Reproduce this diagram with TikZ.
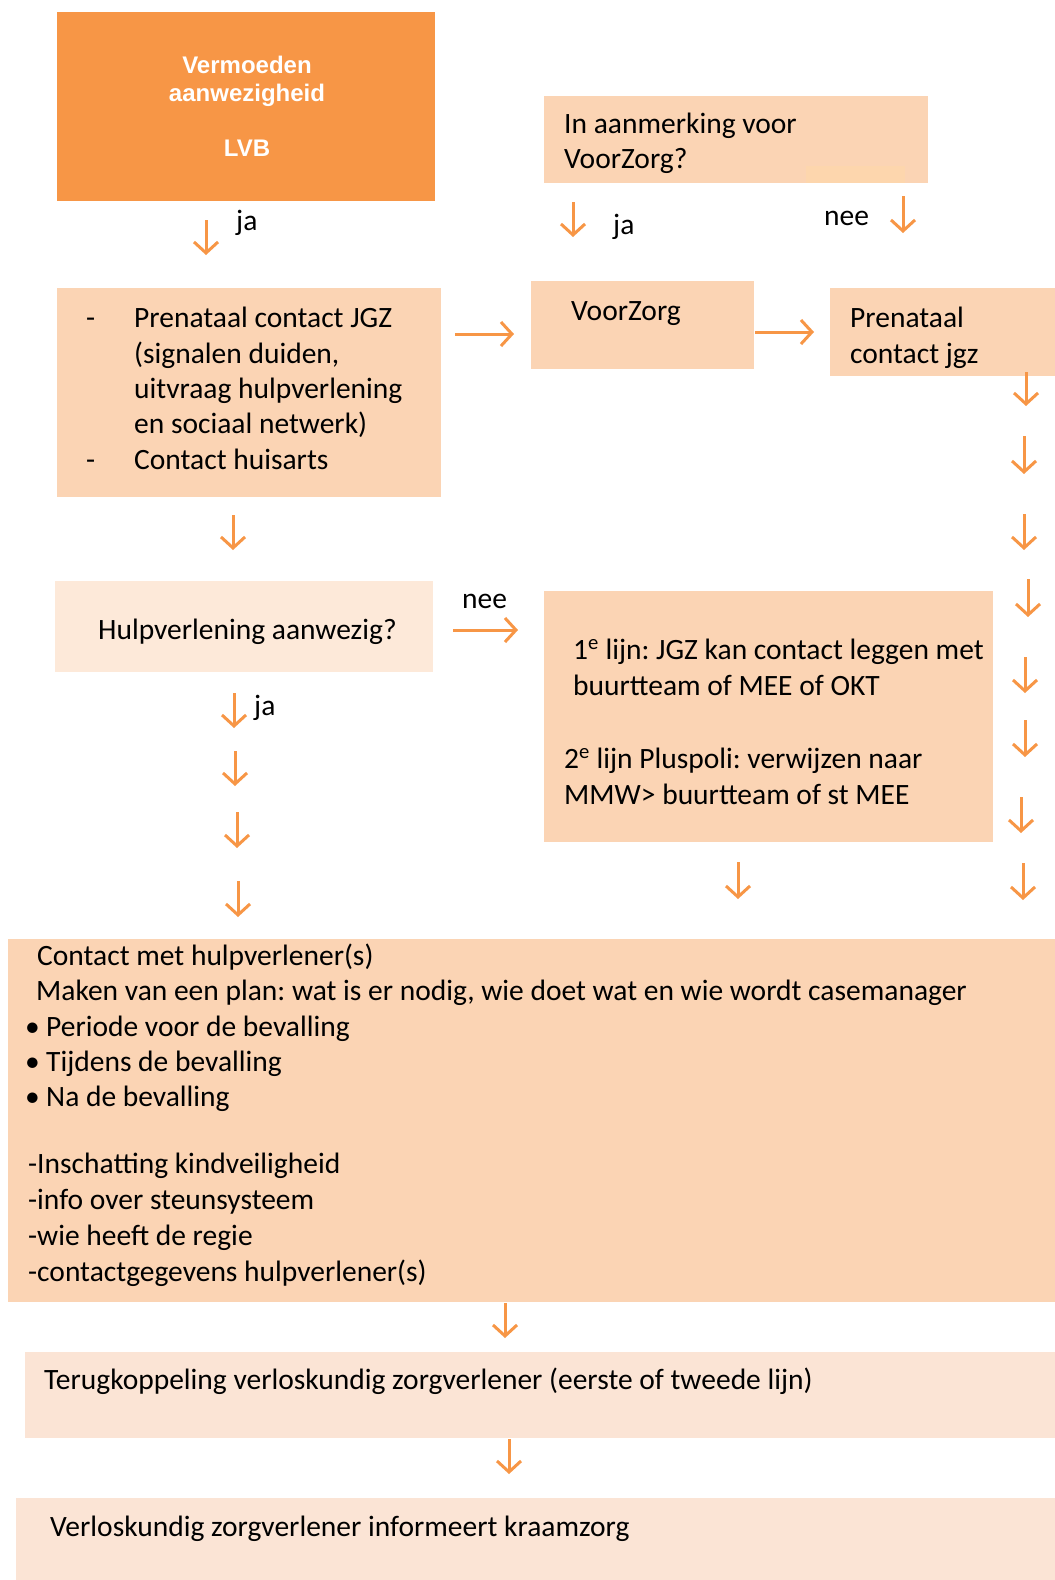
\documentclass[tikz,border=0pt]{standalone}
\usepackage{fontspec}
\setmainfont{Carlito}
\newfontfamily\headfont{Liberation Sans}
\usetikzlibrary{arrows.meta}
\frenchspacing
\definecolor{lvborange}{HTML}{F79646}
\definecolor{peach}{HTML}{FBD4B4}
\definecolor{pale}{HTML}{FDE9D9}
\definecolor{blush}{HTML}{FBE4D5}
\definecolor{apricot}{HTML}{FDD6AD}
\begin{document}
\begin{tikzpicture}[x=1pt,y=-1pt,
  box/.style={anchor=north west,inner sep=0pt,outer sep=0pt,draw=none},
  txt/.style={anchor=west,inner sep=0pt,yshift=-3pt,font=\fontsize{29.5}{35}\selectfont,text height=20pt,text depth=6pt},
  head/.style={anchor=center,inner sep=0pt,yshift=-2pt,text=white,font=\headfont\bfseries\fontsize{24}{28}\selectfont,text height=17pt,text depth=5pt},
  arr/.style={draw=lvborange,line width=3pt,-{Straight Barb[length=11pt,width=24pt]}}
]
\useasboundingbox (0,0) rectangle (1055,1580);

% boxes
\node[box,fill=lvborange,minimum width=378pt,minimum height=189pt] (lvb) at (57,12) {};
\node[box,fill=peach,minimum width=384pt,minimum height=87pt] (vzq) at (544,96) {};
\node[box,fill=apricot,minimum width=99pt,minimum height=17pt] (vzqpatch) at (806,166) {};
\node[box,fill=peach,minimum width=384pt,minimum height=209pt] (jgz) at (57,288) {};
\node[box,fill=peach,minimum width=223pt,minimum height=88pt] (vz) at (531,281) {};
\node[box,fill=peach,minimum width=225pt,minimum height=88pt] (pcj) at (830,288) {};
\node[box,fill=pale,minimum width=378pt,minimum height=91pt] (hulp) at (55,581) {};
\node[box,fill=peach,minimum width=449pt,minimum height=251pt] (lijn) at (544,591) {};
\node[box,fill=peach,minimum width=1047pt,minimum height=363pt] (plan) at (8,939) {};
\node[box,fill=blush,minimum width=1030pt,minimum height=86pt] (terug) at (25,1352) {};
\node[box,fill=blush,minimum width=1039pt,minimum height=82pt] (kraam) at (16,1498) {};

% texts
\node[head] (t1a) at (247,65) {Vermoeden};
\node[head] (t1b) at (247,93) {aanwezigheid};
\node[head] (t1c) at (247,148) {LVB};

\node[txt] (t2a) at (564,123) {In aanmerking voor};
\node[txt] (t2b) at (564,158) {VoorZorg?};

\node[txt] (t3d1) at (86,317) {-};
\node[txt] (t3a) at (134,317) {Prenataal contact JGZ};
\node[txt] (t3b) at (134,353) {(signalen duiden,};
\node[txt] (t3c) at (134,388) {uitvraag hulpverlening};
\node[txt] (t3e) at (134,423) {en sociaal netwerk)};
\node[txt] (t3d2) at (86,459) {-};
\node[txt] (t3f) at (134,459) {Contact huisarts};

\node[txt] (t4) at (571,310) {VoorZorg};
\node[txt] (t5a) at (850,317) {Prenataal};
\node[txt] (t5b) at (850,353) {contact jgz};

\node[txt] (t6) at (98,629) {Hulpverlening aanwezig?};

\node[txt] (t7a) at (573,649) {1\textsuperscript{e} lijn: JGZ kan contact leggen met};
\node[txt] (t7b) at (573,685) {buurtteam of MEE of OKT};
\node[txt] (t7c) at (564,758) {2\textsuperscript{e} lijn Pluspoli: verwijzen naar};
\node[txt] (t7d) at (564,794) {MMW> buurtteam of st MEE};

\node[txt] (t8a) at (37,955) {Contact met hulpverlener(s)};
\node[txt] (t8b) at (36,990) {Maken van een plan: wat is er nodig, wie doet wat en wie wordt casemanager};
\node[txt] (t8c) at (25,1026) {•};
\node[txt] (t8d) at (46,1026) {Periode voor de bevalling};
\node[txt] (t8e) at (25,1061) {•};
\node[txt] (t8f) at (46,1061) {Tijdens de bevalling};
\node[txt] (t8g) at (25,1096) {•};
\node[txt] (t8h) at (46,1096) {Na de bevalling};
\node[txt] (t8i) at (28,1163) {-Inschatting kindveiligheid};
\node[txt] (t8j) at (28,1199) {-info over steunsysteem};
\node[txt] (t8k) at (28,1235) {-wie heeft de regie};
\node[txt] (t8l) at (28,1271) {-contactgegevens hulpverlener(s)};

\node[txt] (t9) at (44,1379) {Terugkoppeling verloskundig zorgverlener (eerste of tweede lijn)};
\node[txt] (t10) at (50,1526) {Verloskundig zorgverlener informeert kraamzorg};

% answer labels
\node[txt] (ja1) at (236,220) {ja};
\node[txt] (ja2) at (613,224) {ja};
\node[txt] (nee1) at (824,215) {nee};
\node[txt] (nee2) at (462,598) {nee};
\node[txt] (ja3) at (254,705) {ja};

% downward arrows
\foreach \n/\x/\ya/\yb in {
  a/206/220/255, b/573/202/237, c/903/196/233,
  r1/1026/372/406, r2/1024/436/474, r3/1024/514/550, r4/1028/579/617,
  r5/1025/657/693, r6/1025/720/757, r7/1021/797/833, r8/1023/863/900,
  d/233/515/550, e/234/693/728, f/235/751/786, g/237/812/848, h/238/881/917,
  i/738/862/899, j/505/1303/1338, k/509/1439/1474}{
  \coordinate (\n s) at (\x,\ya);
  \coordinate (\n e) at (\x,\yb);
  \draw[arr] (\n s) -- (\n e);
}
% rightward arrows
\foreach \n/\xa/\xb/\y in {p/455/514/334, q/755/814/332, u/453/518/630}{
  \coordinate (\n s) at (\xa,\y);
  \coordinate (\n e) at (\xb,\y);
  \draw[arr] (\n s) -- (\n e);
}
\end{tikzpicture}
\end{document}
